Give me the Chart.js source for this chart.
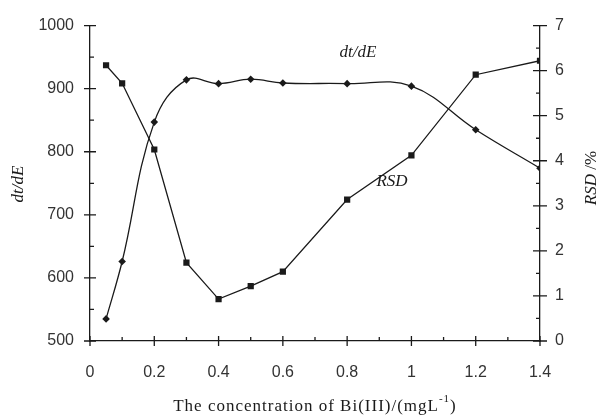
<!DOCTYPE html>
<html lang="en">
<head>
<meta charset="UTF-8">
<title>dt/dE and RSD vs Bi(III)</title>
<script src="https://cdn.jsdelivr.net/npm/chart.js"></script>
<style>
  body { margin: 0; background: #fff; }
  #box { width: 600px; height: 416px; position: relative; }
</style>
</head>
<body>
<div id="box"><canvas id="grafico"></canvas></div>
<script>
// data
const conc = [0.05, 0.1, 0.2, 0.3, 0.4, 0.5, 0.6, 0.8, 1.0, 1.2, 1.4];
const dtdE = [535, 626, 847, 914, 908, 915, 909, 908, 904, 835, 774];
const rsd = [6.12, 5.72, 4.25, 1.74, 0.93, 1.22, 1.54, 3.14, 4.12, 5.91, 6.22];

// ticks
const xTicks = [0, 0.2, 0.4, 0.6, 0.8, 1.0, 1.2, 1.4];
const xTickLabels = ['0', '0.2', '0.4', '0.6', '0.8', '1', '1.2', '1.4'];
const xMinor = [0.1, 0.3, 0.5, 0.7, 0.9, 1.1, 1.3];
const yTicks = [500, 600, 700, 800, 900, 1000];
const yTickLabels = ['500', '600', '700', '800', '900', '1000'];
const yMinor = [550, 650, 750, 850, 950];
const y1Ticks = [0, 1, 2, 3, 4, 5, 6, 7];
const y1TickLabels = ['0', '1', '2', '3', '4', '5', '6', '7'];
const y1Minor = [0.5, 1.5, 2.5, 3.5, 4.5, 5.5, 6.5];

const ink = '#1a1a1a';
const tickFont = { family: '"Liberation Sans", sans-serif', size: 16 };
const serif = '"Liberation Serif", "DejaVu Serif", serif';

function pts(ys) {
    const out = [];
    for (let i = 0; i < conc.length; i++) out.push({ x: conc[i], y: ys[i] });
    return out;
}

// tick marks (major cross the axis, minor only inside) + titles
const marcas = {
    id: 'marcas',
    afterDraw(chart) {
        const ctx = chart.ctx;
        const sx = chart.scales.x, sy = chart.scales.y, sy1 = chart.scales.y1;
        const a = chart.chartArea;
        ctx.save();
        ctx.strokeStyle = ink;
        ctx.lineWidth = 1.3;
        ctx.beginPath();
        xTicks.forEach(v => { const p = sx.getPixelForValue(v); ctx.moveTo(p, a.bottom - 5); ctx.lineTo(p, a.bottom + 5); });
        xMinor.forEach(v => { const p = sx.getPixelForValue(v); ctx.moveTo(p, a.bottom - 4); ctx.lineTo(p, a.bottom); });
        yTicks.forEach(v => { const p = sy.getPixelForValue(v); ctx.moveTo(a.left - 6, p); ctx.lineTo(a.left + 6, p); });
        yMinor.forEach(v => { const p = sy.getPixelForValue(v); ctx.moveTo(a.left, p); ctx.lineTo(a.left + 4, p); });
        y1Ticks.forEach(v => { const p = sy1.getPixelForValue(v); ctx.moveTo(a.right - 7, p); ctx.lineTo(a.right + 7, p); });
        y1Minor.forEach(v => { const p = sy1.getPixelForValue(v); ctx.moveTo(a.right - 4, p); ctx.lineTo(a.right, p); });
        ctx.stroke();

        ctx.fillStyle = ink;
        ctx.textBaseline = 'middle';
        ctx.textAlign = 'center';

        // series labels inside the plot
        ctx.font = 'italic 17px ' + serif;
        ctx.fillText('dt/dE', 358, 53);
        ctx.fillText('RSD', 392, 182);

        // left title
        ctx.save();
        ctx.translate(19, 184);
        ctx.rotate(-Math.PI / 2);
        ctx.fillText('dt/dE', 0, 0);
        ctx.restore();

        // right title
        ctx.save();
        ctx.translate(592, 178);
        ctx.rotate(-Math.PI / 2);
        ctx.font = 'italic 17px ' + serif;
        const w1 = ctx.measureText('RSD').width;
        ctx.font = '17px ' + serif;
        const w2 = ctx.measureText(' /%').width;
        ctx.textAlign = 'left';
        ctx.font = 'italic 17px ' + serif;
        ctx.fillText('RSD', -(w1 + w2) / 2, 0);
        ctx.font = '17px ' + serif;
        ctx.fillText(' /%', -(w1 + w2) / 2 + w1, 0);
        ctx.restore();

        // x title with superscript
        ctx.textBaseline = 'alphabetic';
        ctx.textAlign = 'left';
        ctx.letterSpacing = '1px';
        const main = 'The concentration of Bi(III)/(mgL';
        ctx.font = '17px ' + serif;
        const wm = ctx.measureText(main).width;
        const wc = ctx.measureText(')').width;
        ctx.font = '11px ' + serif;
        const ws = ctx.measureText('-1').width;
        const x0 = (a.left + a.right) / 2 - (wm + ws + wc) / 2;
        ctx.font = '17px ' + serif;
        ctx.fillText(main, x0, 411);
        ctx.font = '11px ' + serif;
        ctx.fillText('-1', x0 + wm, 402);
        ctx.font = '17px ' + serif;
        ctx.fillText(')', x0 + wm + ws, 411);
        ctx.restore();
    }
};

new Chart(document.getElementById('grafico'), {
    type: 'line',
    data: {
        datasets: [
            {
                label: 'dt/dE',
                data: pts(dtdE),
                yAxisID: 'y',
                borderColor: ink,
                borderWidth: 1.3,
                tension: 0.4,
                pointStyle: 'rectRot',
                pointRadius: 3.8,
                pointBackgroundColor: ink,
                pointBorderColor: ink,
                pointBorderWidth: 0
            },
            {
                label: 'RSD',
                data: pts(rsd),
                yAxisID: 'y1',
                borderColor: ink,
                borderWidth: 1.3,
                tension: 0,
                pointStyle: 'rect',
                pointRadius: 4.4,
                pointBackgroundColor: ink,
                pointBorderColor: ink,
                pointBorderWidth: 0
            }
        ]
    },
    options: {
        responsive: true,
        maintainAspectRatio: false,
        animation: false,
        layout: { padding: { top: 19, left: 0, right: 0, bottom: 0 } },
        plugins: { legend: { display: false }, tooltip: { enabled: false } },
        scales: {
            x: {
                type: 'linear',
                min: 0, max: 1.4,
                afterFit: s => { s.height = 75; },
                afterBuildTicks: s => { s.ticks = xTicks.map(v => ({ value: v })); },
                ticks: { font: tickFont, color: '#333', padding: 22, maxRotation: 0,
                    callback: (v, i) => xTickLabels[i] },
                grid: { display: false, drawTicks: false },
                border: { display: true, color: ink, width: 1.3 }
            },
            y: {
                position: 'left',
                min: 500, max: 1000,
                afterFit: s => { s.width = 90; },
                afterBuildTicks: s => { s.ticks = yTicks.map(v => ({ value: v })); },
                ticks: { font: tickFont, color: '#333', padding: 16,
                    callback: (v, i) => yTickLabels[i] },
                grid: { display: false, drawTicks: false },
                border: { display: true, color: ink, width: 1.3 }
            },
            y1: {
                position: 'right',
                min: 0, max: 7,
                afterFit: s => { s.width = 60; },
                afterBuildTicks: s => { s.ticks = y1Ticks.map(v => ({ value: v })); },
                ticks: { font: tickFont, color: '#333', padding: 15,
                    callback: (v, i) => y1TickLabels[i] },
                grid: { display: false, drawTicks: false },
                border: { display: true, color: ink, width: 1.3 }
            }
        }
    },
    plugins: [marcas]
});
</script>
</body>
</html>
